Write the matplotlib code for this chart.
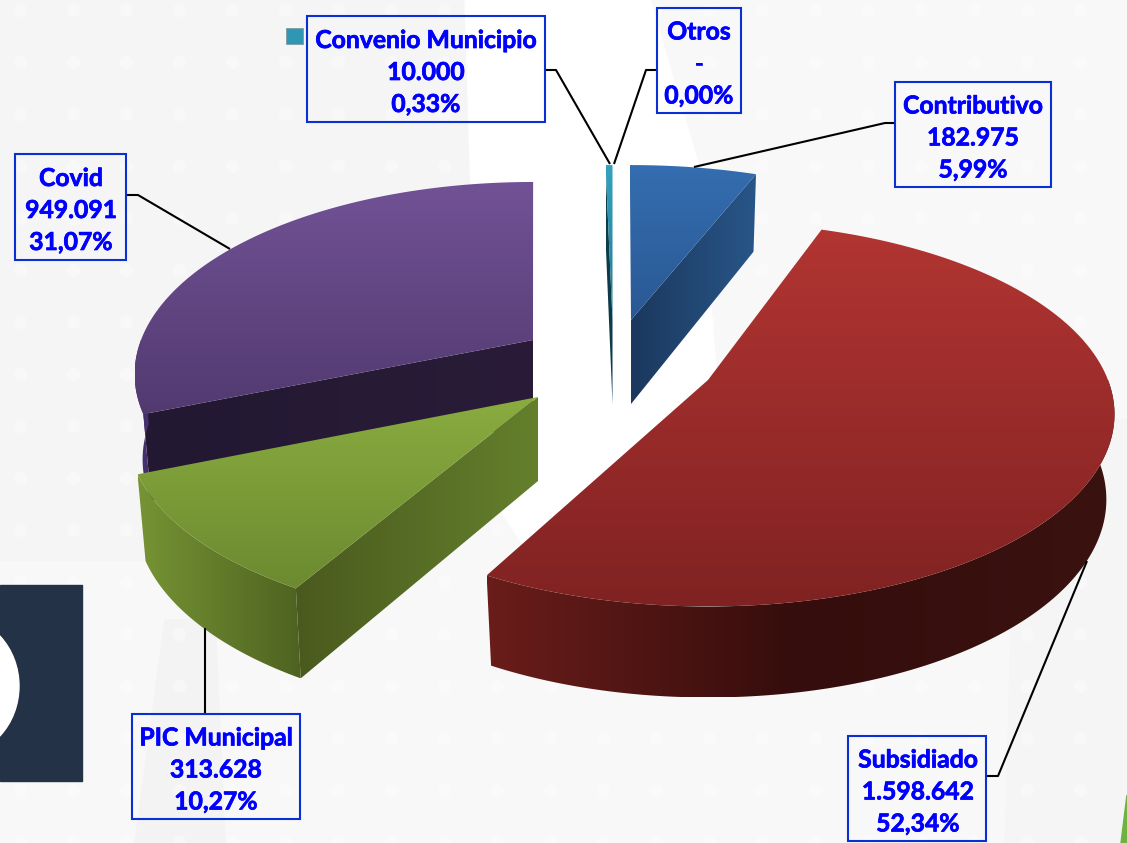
import numpy as np
import matplotlib
matplotlib.use("Agg")
import matplotlib.pyplot as plt
import matplotlib.patheffects as pe
from matplotlib.patches import Polygon, Rectangle, Ellipse

# data
names = ["Contributivo", "Subsidiado", "PIC Municipal", "Covid", "Convenio Municipio", "Otros"]
values = [182975, 1598642, 313628, 949091, 10000, 0]
value_labels = ["182.975", "1.598.642", "313.628", "949.091", "10.000", "-"]
pct_labels = ["5,99%", "52,34%", "10,27%", "31,07%", "0,33%", "0,00%"]

# pie look (pixels)
apex = {"Contributivo": (631, 320), "Subsidiado": (708, 380), "PIC Municipal": (538, 397),
        "Covid": (533, 340), "Convenio Municipio": (612.5, 320)}
turn = {"Contributivo": -0.2, "Subsidiado": -2.2, "PIC Municipal": 0.5, "Covid": 1.2, "Convenio Municipio": 0.0}
stretch = {"Contributivo": (1.0, 1.0), "Subsidiado": (1.0, 1.02), "PIC Municipal": (1.01, 1.03),
           "Covid": (0.98, 1.02), "Convenio Municipio": (1.0, 1.0)}
RX, RY, K = 400.0, 182.5, 0.178
order = ["Covid", "PIC Municipal", "Convenio Municipio", "Contributivo", "Subsidiado"]

top_col = {"Contributivo": [(52, 110, 176), (42, 88, 148)],
           "Subsidiado": [(178, 53, 50), (128, 34, 34)],
           "PIC Municipal": [(138, 172, 64), (108, 138, 48)],
           "Covid": [(114, 82, 150), (82, 58, 112)],
           "Convenio Municipio": [(52, 162, 192), (36, 120, 145)]}
cut_col = {"Contributivo": [(27, 56, 94), (40, 86, 136)],
           "Subsidiado": [(100, 28, 26), (100, 28, 26)],
           "PIC Municipal": [(74, 90, 30), (100, 128, 44)],
           "Covid": [(34, 24, 50), (42, 28, 56)],
           "Convenio Municipio": [(12, 60, 75), (12, 60, 75)]}
wall_col = {"Contributivo": [(40, 86, 136), (40, 86, 136)],
            "Subsidiado": [(106, 29, 26), (52, 13, 12), (58, 19, 17)],
            "PIC Municipal": [(118, 148, 52), (78, 98, 32)],
            "Covid": [(68, 48, 108), (68, 48, 108)],
            "Convenio Municipio": [(12, 60, 75), (12, 60, 75)]}

# label boxes: x0, y0, x1, y1 and text centre
boxes = {"Contributivo": (895, 82, 1051, 187, 973), "Subsidiado": (848, 736, 986, 841, 918),
         "PIC Municipal": (132, 714, 300, 819, 216), "Covid": (15, 154, 126, 260, 71),
         "Convenio Municipio": (307, 16, 545, 122, 426), "Otros": (657, 8, 741, 113, 699)}
leaders = {"Contributivo": [(895, 123), (885, 123), (694, 167)],
           "Subsidiado": [(987, 776), (998, 776), (1087, 561)],
           "PIC Municipal": [(205, 713), (205, 628)],
           "Covid": [(127, 195), (138, 195), (230, 249)],
           "Convenio Municipio": [(545, 70), (556, 70), (610, 164)],
           "Otros": [(657, 70), (646, 70), (614, 164)]}

plt.rcParams["font.family"] = ["Lato", "DejaVu Sans"]
fig = plt.figure(figsize=(11.27, 8.43), dpi=100)
ax = fig.add_axes([0, 0, 1, 1])
ax.axis("off")


def grad(pts, stops, horizontal=False, z=2):
    pts = np.array(pts)
    x0, y0 = pts.min(axis=0)
    x1, y1 = pts.max(axis=0)
    stops = np.array(stops, dtype=float) / 255
    t = np.linspace(0, 1, 256)
    p = np.linspace(0, 1, len(stops))
    g = np.stack([np.interp(t, p, stops[:, i]) for i in range(3)], axis=1)
    g = g[None, :, :] if horizontal else g[:, None, :]
    if x1 - x0 < 1:
        x1 = x0 + 1
    if y1 - y0 < 1:
        y1 = y0 + 1
    im = ax.imshow(g, extent=(x0, x1, y1, y0), aspect="auto", interpolation="bilinear", zorder=z)
    im.set_clip_path(Polygon(pts, closed=True, transform=ax.transData))


def project(a, c, s):
    # a in degrees clockwise from the far side of the pie
    r = np.radians(a)
    u, v = np.sin(r), np.cos(r)
    w = 1 + K * v
    return np.column_stack([c[0] + s[0] * RX * u / w, c[1] - s[1] * RY * v / w]), v


def drop(p, v, c):
    # same points on the underside of the pie
    q = p.copy()
    q[:, 0] += (c[0] - p[:, 0]) * 0.02
    q[:, 1] += 84 - 7 * v
    return q


# background
ax.add_patch(Rectangle((0, 0), 1127, 843, color="#f8f8f8", zorder=0))
ax.add_patch(Polygon([(0, 0), (465, 0), (472, 300), (300, 560), (0, 560)], color="#f5f5f6", zorder=0.1))
ax.add_patch(Polygon([(465, 0), (650, 0), (700, 170), (720, 420), (560, 600), (480, 480)],
                     color="#ffffff", zorder=0.1))
ax.add_patch(Polygon([(165, 620), (215, 620), (225, 843), (135, 843)], color="#f3f3f4", zorder=0.2))
ax.add_patch(Polygon([(1012, 600), (1110, 420), (1127, 420), (1127, 843), (1005, 843)], color="#f5f5f5", zorder=0.2))
dx, dy = np.meshgrid(np.arange(20, 1127, 53), np.arange(10, 843, 52))
ax.scatter(dx.ravel(), dy.ravel(), s=90, color="#ffffff", alpha=0.35, linewidths=0, zorder=0.4)
ax.add_patch(Polygon([(1127, 795), (1121, 843), (1127, 843)], color="#6cb33f", zorder=1))
ax.add_patch(Rectangle((0, 585), 82, 196, color="#233246", zorder=1))
ax.add_patch(Ellipse((-45, 686), 128, 140, color="#ffffff", zorder=1.1))

# slices
total = sum(values)
start = 0.0
angles = {}
for n, val in zip(names, values):
    angles[n] = (start, start + 360.0 * val / total)
    start += 360.0 * val / total

z = 2
for n in order:
    a0, a1 = angles[n]
    a0, a1 = a0 + turn[n], a1 + turn[n]
    c = apex[n]
    s = stretch[n]
    arc, v = project(np.linspace(a0, a1, 200), c, s)
    low = drop(arc, v, c)
    base = (c[0], c[1] + 84)
    # cut faces, only the ones turned to the viewer
    if 180 < a0 < 360:
        grad([c, arc[0], low[0], base], cut_col[n], horizontal=True, z=z)
    if 0 < a1 < 180:
        grad([c, arc[-1], low[-1], base], cut_col[n], horizontal=True, z=z)
    # outer wall
    lo, hi = max(a0, 90), min(a1, 270)
    if hi > lo:
        arc2, v2 = project(np.linspace(lo, hi, 200), c, s)
        low2 = drop(arc2, v2, c)
        grad(np.vstack([arc2, low2[::-1]]), wall_col[n], horizontal=True, z=z + 0.1)
    # top
    grad(np.vstack([[c], arc]), top_col[n], z=z + 0.2)
    z += 1

# legend key of the small slice
ax.add_patch(Rectangle((286, 28), 17, 16, facecolor="#2f97b3", edgecolor="#7f9aa5", lw=0.6, zorder=20))

# labels
for n, vl, pl in zip(names, value_labels, pct_labels):
    x0, y0, x1, y1, xc = boxes[n]
    ax.add_patch(Rectangle((x0, y0), x1 - x0, y1 - y0, facecolor="none", edgecolor="#0a2fd2", lw=1.5, zorder=21))
    pts = np.array(leaders[n])
    ax.plot(pts[:, 0], pts[:, 1], color="black", lw=1.5, solid_capstyle="butt", zorder=20)
    ym = (y0 + y1) / 2 + 3.5
    for txt, off in zip([n, vl, pl], [-32, 0, 32]):
        ax.text(xc, ym + off, txt, color="#0000ff", fontsize=17.8, fontweight="bold",
                ha="center", va="center", zorder=22,
                path_effects=[pe.withStroke(linewidth=0.5, foreground="#0000ff")])

ax.set_xlim(0, 1127)
ax.set_ylim(843, 0)
fig.savefig("out.png", dpi=100)
